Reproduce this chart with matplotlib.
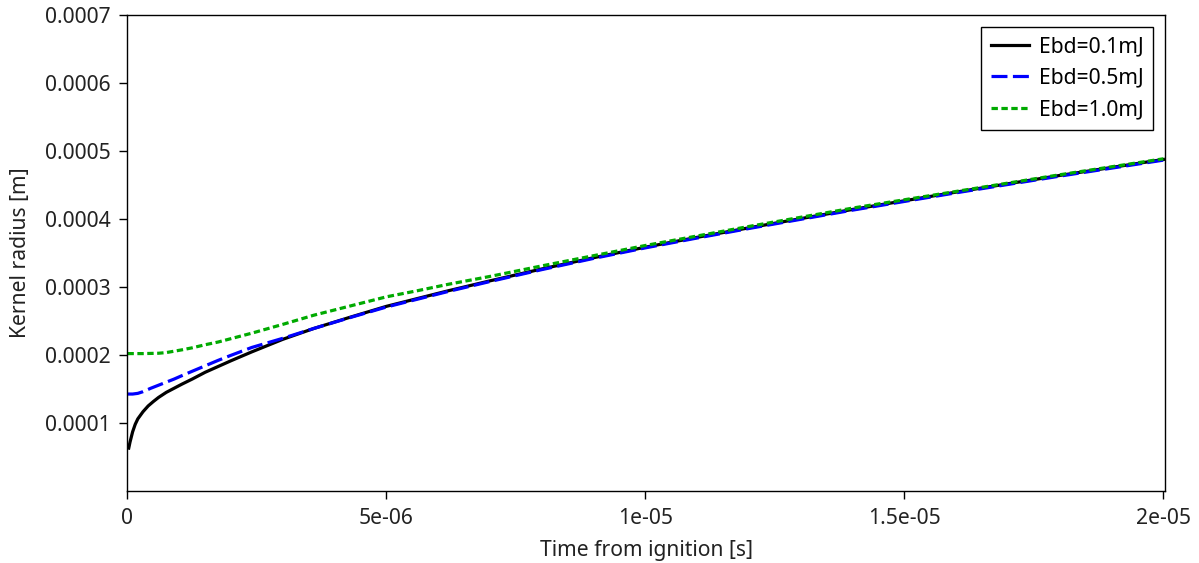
import matplotlib
matplotlib.use("Agg")
import matplotlib.pyplot as plt

# ============================================================
# Kernel radius vs. time from ignition, three breakdown energies
# ============================================================

plt.rcParams["font.family"] = ["Noto Sans", "DejaVu Sans"]

# times in microseconds, radii in 1e-4 m
t_01 = [0.025, 0.05, 0.1, 0.15, 0.2, 0.3, 0.4, 0.5, 0.6, 0.75, 0.9, 1.05, 1.25, 1.5,
        1.75, 2.0, 2.4, 3.0, 3.6, 4.3, 5.0, 5.6, 6.2, 7.0, 8.0, 9.0, 10.0, 11.0,
        12.0, 14.0, 16.0, 18.0, 20.0]
r_01 = [0.63, 0.72, 0.87, 0.98, 1.06, 1.165, 1.25, 1.315, 1.375, 1.45, 1.51, 1.57, 1.645, 1.745,
        1.83, 1.915, 2.045, 2.23, 2.39, 2.555, 2.715, 2.83, 2.945, 3.09, 3.265, 3.43, 3.585, 3.73,
        3.87, 4.14, 4.395, 4.64, 4.875]

t_05 = [0.0, 0.1, 0.2, 0.3, 0.45, 0.6, 0.75, 0.9, 1.05, 1.25, 1.5, 1.75, 2.0, 2.4,
        3.0, 3.6, 4.3, 5.0, 5.6, 6.2, 7.0, 8.0, 9.0, 10.0, 11.0,
        12.0, 14.0, 16.0, 18.0, 20.0]
r_05 = [1.425, 1.425, 1.435, 1.46, 1.51, 1.555, 1.60, 1.645, 1.695, 1.76, 1.84, 1.92, 1.995, 2.11,
        2.245, 2.39, 2.55, 2.705, 2.82, 2.935, 3.08, 3.255, 3.42, 3.575, 3.72,
        3.86, 4.13, 4.385, 4.63, 4.865]

t_10 = [0.0, 0.3, 0.6, 0.75, 0.9, 1.05, 1.25, 1.5, 1.75, 2.0, 2.4, 3.0, 3.6, 4.3,
        5.0, 5.6, 6.2, 7.0, 8.0, 9.0, 10.0, 11.0, 12.0, 14.0, 16.0, 18.0, 20.0]
r_10 = [2.02, 2.02, 2.025, 2.035, 2.055, 2.075, 2.105, 2.15, 2.19, 2.24, 2.32, 2.45, 2.585, 2.72,
        2.855, 2.945, 3.04, 3.155, 3.31, 3.46, 3.61, 3.75, 3.89, 4.16, 4.405, 4.65, 4.885]

labels = ["Ebd=0.1mJ", "Ebd=0.5mJ", "Ebd=1.0mJ"]

x_ticks = [0, 5e-6, 1e-5, 1.5e-5, 2e-5]
x_tick_labels = ["0", "5e-06", "1e-05", "1.5e-05", "2e-05"]
y_ticks = [1e-4, 2e-4, 3e-4, 4e-4, 5e-4, 6e-4, 7e-4]
y_tick_labels = ["0.0001", "0.0002", "0.0003", "0.0004", "0.0005", "0.0006", "0.0007"]


def to_si(t_us, r_e4):
    return [v * 1e-6 for v in t_us], [v * 1e-4 for v in r_e4]


fig = plt.figure(figsize=(11.99, 5.63), dpi=100)
ax = fig.add_axes([0.1063, 0.128, 0.8653, 0.8454])

x, y = to_si(t_01, r_01)
ax.plot(x, y, color="black", linewidth=2.3, label=labels[0])

x, y = to_si(t_05, r_05)
ax.plot(x, y, color="#0000ff", linewidth=2.3, linestyle=(0, (5, 1.7)), label=labels[1])

x, y = to_si(t_10, r_10)
ax.plot(x, y, color="#00aa00", linewidth=2.3, linestyle=(0, (2, 1.1)), label=labels[2])

ax.set_xlim(0, 2.003e-5)
ax.set_ylim(0, 7e-4)
ax.set_xticks(x_ticks)
ax.set_xticklabels(x_tick_labels)
ax.set_yticks(y_ticks)
ax.set_yticklabels(y_tick_labels)

ax.tick_params(labelsize=15.2, length=6, width=1, pad=6, colors="black", labelcolor="#222222")
ax.set_xlabel("Time from ignition [s]", fontsize=15.2, color="#222222", labelpad=8)
ax.set_ylabel("Kernel radius [m]", fontsize=15.2, color="#222222", labelpad=10)

for spine in ax.spines.values():
    spine.set_linewidth(1.0)

leg = ax.legend(loc="upper right", fontsize=15.2, fancybox=False, framealpha=1,
                edgecolor="black", handlelength=1.8, handletextpad=0.5,
                borderpad=0.45, borderaxespad=0.55)
leg.get_frame().set_linewidth(1.0)

plt.savefig("out.png", dpi=100)
